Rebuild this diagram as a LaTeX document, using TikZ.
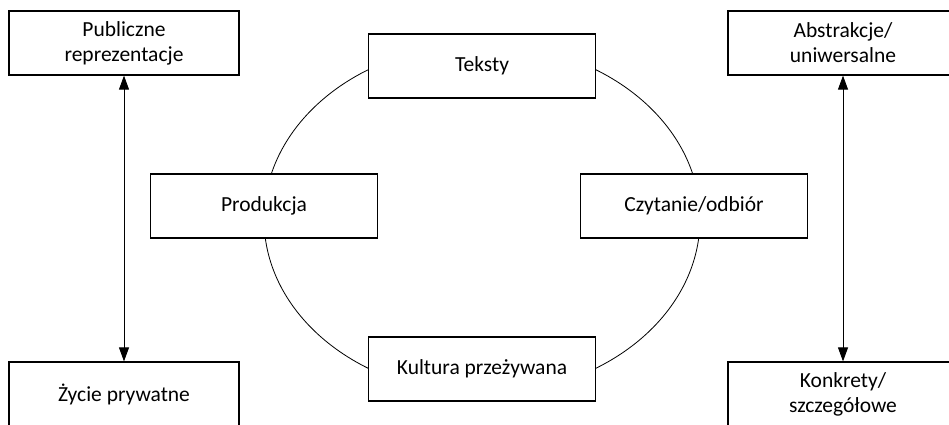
\documentclass[tikz,border=0pt]{standalone}
\usepackage{fontspec}
\setmainfont{Carlito}
\usetikzlibrary{arrows.meta}

\begin{document}
\begin{tikzpicture}[x=1pt,y=-1pt]

    \clip (0,0) rectangle (949,424);

    % circuit of culture
    \draw[line width=0.8pt] (482,219) ellipse [x radius=218pt, y radius=175pt];

    \begin{scope}[every node/.style={rectangle,draw,fill=white,line width=1.2pt,
            minimum width=227pt,minimum height=64pt,align=center,
            font=\fontsize{21.5}{25}\selectfont}]
        \node (teksty) at (482,66) {Teksty};
        \node (produkcja) at (264,206) {Produkcja};
        \node (czytanie) at (694,206) {Czytanie/odbiór};
        \node (kultura) at (482,369) {Kultura przeżywana};
    \end{scope}

    \begin{scope}[every node/.style={rectangle,draw,fill=white,line width=1.2pt,
            minimum width=230pt,minimum height=64pt,align=center,
            font=\fontsize{21.5}{25}\selectfont}]
        \node (publiczne) at (124,43) {Publiczne\\reprezentacje};
        \node (prywatne) at (124,394) {Życie prywatne};
        \node (abstrakcje) at (843,43) {Abstrakcje/\\uniwersalne};
        \node (konkrety) at (843,394) {Konkrety/\\szczegółowe};
    \end{scope}

    \begin{scope}[every edge/.style={draw,line width=0.9pt}]
        \path [{Triangle[length=14pt,width=10pt]}-{Triangle[length=14pt,width=10pt]}]
            (publiczne) edge (prywatne);
        \path [{Triangle[length=14pt,width=10pt]}-{Triangle[length=14pt,width=10pt]}]
            (abstrakcje) edge (konkrety);
    \end{scope}

\end{tikzpicture}
\end{document}
